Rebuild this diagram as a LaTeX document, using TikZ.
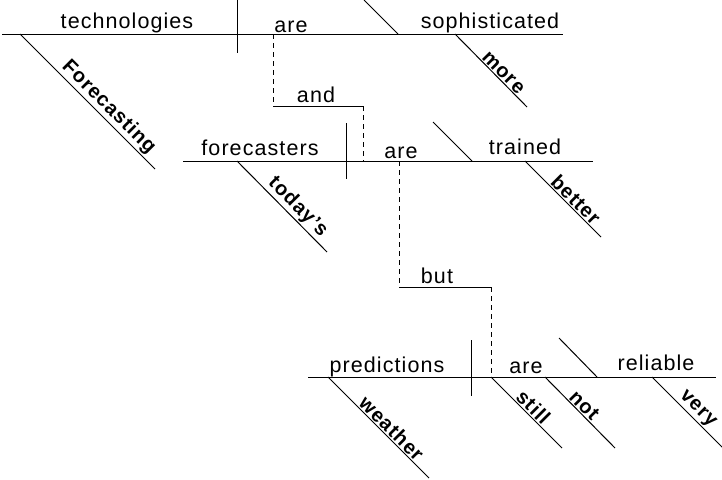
\documentclass[tikz,border=0pt]{standalone}
\usepackage{fontspec}
\setmainfont{Liberation Sans}[LetterSpace=5]
\begin{document}
\begin{tikzpicture}[x=1pt,y=-1pt,line width=1pt,
  word/.style={font=\fontsize{21.5}{24}\selectfont,inner sep=0pt,anchor=base},
  modword/.style={font=\fontsize{20}{22}\selectfont\bfseries,sloped,above,inner sep=1pt},
  joiner/.style={dash pattern=on 5pt off 4pt}]
 \useasboundingbox (0,0) rectangle (722,479);
 % first clause
 \coordinate (l1a) at (2,34);   \coordinate (l1b) at (563,34);
 \coordinate (d1a) at (237,0);  \coordinate (d1b) at (237,53);
 \coordinate (s1a) at (364,0);  \coordinate (s1b) at (398,34);
 \coordinate (m1a) at (20,34);  \coordinate (m1b) at (155,169);
 \coordinate (m2a) at (455,34); \coordinate (m2b) at (527,107);
 \draw (l1a) -- (l1b);
 \draw (d1a) -- (d1b);
 \draw (s1a) -- (s1b);
 \node[word] (technologies) at (127,28) {technologies};
 \node[word] (are1) at (291,32) {are};
 \node[word] (sophisticated) at (490,28) {sophisticated};
 \draw (m1a) -- (m1b) node[modword,pos=.6] (forecasting) {Forecasting};
 \draw (m2a) -- (m2b) node[modword,pos=.6] (more) {more};
 % and
 \coordinate (v1) at (273,34);  \coordinate (c1a) at (273,106);
 \coordinate (c1b) at (363,106); \coordinate (v2) at (363,161);
 \draw[joiner] (v1) -- (c1a);
 \draw (c1a) -- (c1b);
 \draw[joiner] (c1b) -- (v2);
 \node[word] (and) at (316,102) {and};
 % second clause
 \coordinate (l2a) at (183,161); \coordinate (l2b) at (593,161);
 \coordinate (d2a) at (346,123); \coordinate (d2b) at (346,179);
 \coordinate (s2a) at (433,122); \coordinate (s2b) at (472,161);
 \coordinate (m3a) at (237,161); \coordinate (m3b) at (327,252);
 \coordinate (m4a) at (525,161); \coordinate (m4b) at (601,237);
 \draw (l2a) -- (l2b);
 \draw (d2a) -- (d2b);
 \draw (s2a) -- (s2b);
 \node[word] (forecasters) at (260,155) {forecasters};
 \node[word] (are2) at (401,158) {are};
 \node[word] (trained) at (525,154) {trained};
 \draw (m3a) -- (m3b) node[modword,pos=.59] (todays) {today's};
 \draw (m4a) -- (m4b) node[modword,pos=.59] (better) {better};
 % but
 \coordinate (v3) at (399,161);  \coordinate (c2a) at (399,287);
 \coordinate (c2b) at (491,287); \coordinate (v4) at (491,377);
 \draw[joiner] (v3) -- (c2a);
 \draw (c2a) -- (c2b);
 \draw[joiner] (c2b) -- (v4);
 \node[word] (but) at (437,283) {but};
 % third clause
 \coordinate (l3a) at (308,377); \coordinate (l3b) at (716,377);
 \coordinate (d3a) at (471,340); \coordinate (d3b) at (471,396);
 \coordinate (s3a) at (559,338); \coordinate (s3b) at (597,377);
 \coordinate (m5a) at (328,377); \coordinate (m5b) at (429,478);
 \coordinate (m6a) at (491,377); \coordinate (m6b) at (562,448);
 \coordinate (m7a) at (545,377); \coordinate (m7b) at (615,448);
 \coordinate (m8a) at (652,377); \coordinate (m8b) at (724,449);
 \draw (l3a) -- (l3b);
 \draw (d3a) -- (d3b);
 \draw (s3a) -- (s3b);
 \node[word] (predictions) at (387,372) {predictions};
 \node[word] (are3) at (526,373) {are};
 \node[word] (reliable) at (656,370) {reliable};
 \draw (m5a) -- (m5b) node[modword,pos=.57] (weather) {weather};
 \draw (m6a) -- (m6b) node[modword,pos=.51] (still) {still};
 \draw (m7a) -- (m7b) node[modword,pos=.48] (not) {not};
 \draw (m8a) -- (m8b) node[modword,pos=.54] (very) {very};
\end{tikzpicture}
\end{document}
